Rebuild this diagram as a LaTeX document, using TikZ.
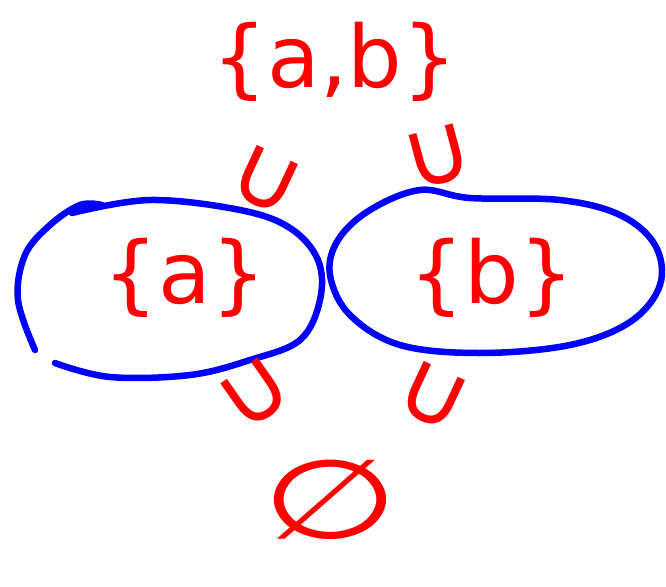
\documentclass[tikz,border=0pt]{standalone}
\usepackage{fontspec}
\setmainfont{DejaVu Sans}
\definecolor{pen}{RGB}{255,0,0}
\definecolor{ink}{RGB}{0,0,255}
\tikzset{
  settext/.style={text=pen, inner sep=0pt, font=\fontsize{#1}{#1}\selectfont},
  settext/.default=80,
  cupsym/.style={text=pen, inner sep=0pt, font=\fontsize{96}{96}\selectfont},
  loop/.style={draw=ink, line width=6.5pt, line cap=round, line join=round}
}
\begin{document}
\begin{tikzpicture}[x=1pt,y=-1pt]
\useasboundingbox (0,0) rectangle (666,586);
% left set
\draw[loop] plot[smooth, tension=0.6] coordinates {(35,350) (18,300) (25,255) (50,225) (80,205) (102,205)};
\draw[loop] plot[smooth, tension=0.6] coordinates {(72,213) (150,200) (240,210) (290,228) (318,260) (320,300) (300,340) (250,360) (190,375) (110,377) (55,363)};
% right set
\draw[loop] plot[smooth cycle, tension=0.6] coordinates {(470,198) (420,190) (370,210) (338,240) (330,275) (350,315) (400,345) (480,353) (570,345) (630,322) (660,285) (655,245) (620,215) (560,200)};
% texts
\node[settext=86] (ab) at (335,62) {\{a,b\}};
\node[settext=86] (a) at (185,278) {\{a\}};
\node[settext=86] (b) at (492,278) {\{b\}};
\node[settext=130, xscale=1.2, yscale=0.85] (e) at (330,500) {∅};
% subset symbols
\node[cupsym, rotate=-25] (u1) at (266,180) {∪};
\node[cupsym, rotate=15] (u2) at (438,157) {∪};
\node[cupsym, rotate=35] (u3) at (255,394) {∪};
\node[cupsym, rotate=-25] (u4) at (433,396) {∪};
\end{tikzpicture}
\end{document}
